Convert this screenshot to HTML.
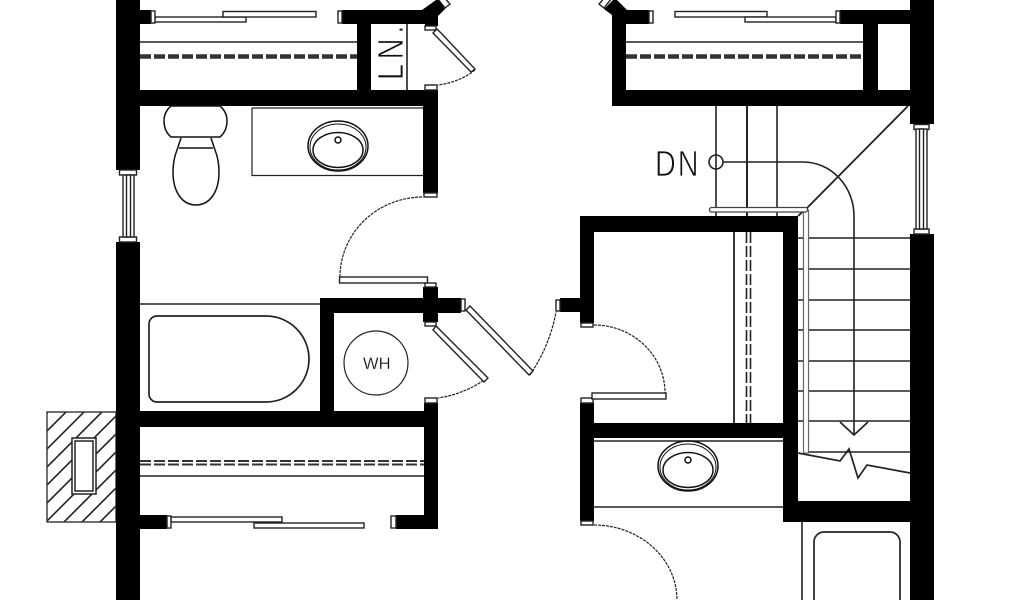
<!DOCTYPE html>
<html><head><meta charset="utf-8"><style>
html,body{margin:0;padding:0;background:#fff;width:1024px;height:600px;overflow:hidden}
svg{display:block}
text{font-family:"Liberation Sans",sans-serif;fill:#111;stroke:#fff}
</style></head><body>
<svg width="1024" height="600" viewBox="0 0 1024 600" xmlns="http://www.w3.org/2000/svg">
<defs><clipPath id="ch"><rect x="47" y="412" width="69" height="110"/></clipPath></defs>
<rect width="1024" height="600" fill="#fff"/>

<!-- chimney -->
<g clip-path="url(#ch)" stroke="#222" stroke-width="1.6">
<path d="M30 430L60 400M30 448L78 400M30 466L96 400M30 484L114 400M30 502L132 400M30 520L150 400M30 538L168 400M48 538L186 400M66 538L186 418M84 538L186 436M102 538L186 454"/>
</g>
<rect x="47" y="412" width="69" height="110" fill="none" stroke="#333" stroke-width="1.4"/>
<rect x="72" y="438" width="24" height="56" fill="#fff" stroke="#222" stroke-width="1.5"/>
<rect x="75" y="441" width="18" height="50" fill="#fff" stroke="#222" stroke-width="1.5"/>

<!-- thin lines -->
<g fill="none" stroke="#222" stroke-width="1.6">
<path d="M140 42H357M626 42H863M140 476H424M407 24V90M140 304H320"/>
<path d="M252 108H423M252 108V175.500H423" stroke-width="1.200"/>
<path d="M594 441H783M594 507H783" stroke-width="1.400"/>
<path d="M802 522V600"/>
<!-- stairs -->
<path d="M716 106V216M777 106V216" />
<path d="M747 106V216" stroke-width="2"/>
<path d="M798 238H910M798 269H910M798 300H910M798 330H910M798 361H910M798 391H910M798 421H910M808 452H910"/>
<path d="M723 162H803A51 54 0 0 1 854 216V435"/>
<circle cx="716" cy="162" r="7"/>
<path d="M808 207L908 106M798 216L808 207" stroke-width="1.800"/>
<path d="M840 422L854 435L868 422" stroke-width="1.700"/>
<path d="M798 453L840 461L849 449L858 478L867 465L910 473" stroke-width="1.700"/>
<path d="M734 232V423" stroke-width="1.800"/>
<path d="M746.500 232V423M750.500 232V423" stroke-dasharray="11 3" stroke-width="1.600"/>
<!-- tubs -->
<path d="M157 316H266A43 43 0 0 1 309 359A43 43 0 0 1 266 402H157A8 8 0 0 1 149 394V324A8 8 0 0 1 157 316Z" stroke-width="1.700"/>
<path d="M814 600V542A10 10 0 0 1 824 532H890A10 10 0 0 1 900 542V600" stroke-width="1.700"/>
<!-- WH circle -->
<circle cx="376" cy="363" r="32" stroke-width="1.200"/>
<!-- arcs -->
<path d="M340 277A83 80 0 0 1 423 197M475 70Q460 82 438 85M487 378Q465 394 438 398M530 375Q550 345 556 312M594 325A71 68 0 0 1 665 393M594 525A83 75 0 0 1 677 600" stroke-width="1.200" stroke-dasharray="3 1"/>
</g>
<!-- stair handrail -->
<rect x="803.500" y="210" width="5" height="243" fill="#fff" stroke="#666" stroke-width="1.200"/>
<rect x="709.500" y="207.500" width="98" height="4.500" rx="2" fill="#fff" stroke="#444" stroke-width="1.300"/>
<!-- dashed shelves -->
<g fill="none" stroke="#333" stroke-dasharray="11 3">
<path d="M140 56.500H357M626 56.500H863" stroke-width="4.500"/>
<path d="M140 461H424M140 464.500H424" stroke-width="2"/>
</g>

<!-- walls -->
<g fill="#000">
<rect x="116" y="0" width="24" height="170"/>
<rect x="116" y="242" width="24" height="358"/>
<rect x="910" y="0" width="24" height="124"/>
<rect x="910" y="234" width="24" height="366"/>
<rect x="140" y="10" width="11" height="14"/>
<rect x="342" y="10" width="80" height="14"/>
<rect x="357" y="24" width="14" height="66"/>
<rect x="116" y="90" width="322" height="16"/>
<rect x="423" y="90" width="15" height="103"/>
<polygon points="422,10 436,0 441,0 445,9 438,16 438,26 425,26 425,24 420,24 420,10"/>
<rect x="423" y="287" width="15" height="35"/>
<rect x="320" y="298" width="141" height="15"/>
<rect x="320" y="298" width="14" height="113"/>
<rect x="140" y="411" width="298" height="16"/>
<rect x="424" y="403" width="14" height="125"/>
<rect x="140" y="515" width="27" height="14"/>
<rect x="396" y="515" width="42" height="14"/>
<polygon points="604,9 613,0 617,0 627,10 649,10 649,24 626,24 626,90 863,90 863,24 840,24 840,10 910,10 910,24 878,24 878,90 910,90 910,106 612,106 612,15"/>
<rect x="580" y="216" width="218" height="16"/>
<rect x="580" y="216" width="14" height="107"/>
<rect x="560" y="298" width="20" height="14"/>
<rect x="580" y="403" width="14" height="118"/>
<rect x="594" y="423" width="204" height="15"/>
<rect x="783" y="216" width="15" height="306"/>
<rect x="783" y="501" width="130" height="21"/>
</g>

<!-- windows -->
<g fill="#fff" stroke="#222" stroke-width="1.400">
<rect x="119.500" y="170" width="17" height="5"/>
<rect x="119.500" y="237" width="17" height="5"/>
<rect x="123" y="175" width="11" height="62"/>
<rect x="126.500" y="175" width="4" height="62"/>
<rect x="914" y="124.500" width="15" height="5"/>
<rect x="914" y="229" width="15" height="5"/>
<rect x="916" y="129" width="11" height="100"/>
<rect x="919.500" y="129" width="4" height="100"/>

<!-- sliding panels -->
<rect x="155" y="17" width="91" height="5"/>
<rect x="223" y="11.500" width="93" height="5.500"/>
<rect x="151" y="11" width="4" height="12"/>
<rect x="338" y="11" width="4" height="12"/>
<rect x="675" y="11.500" width="92" height="5.500"/>
<rect x="745" y="17" width="91" height="5"/>
<rect x="649" y="11" width="4" height="12"/>
<rect x="836" y="11" width="4" height="12"/>
<rect x="171" y="517" width="111" height="5"/>
<rect x="254" y="523" width="110" height="5"/>
<rect x="167" y="516" width="4" height="12"/>
<rect x="391" y="516" width="5" height="12"/>

<!-- door caps & panels -->
<rect x="425" y="26" width="11" height="4"/>
<rect x="425" y="85" width="12" height="5"/>
<rect x="424" y="193" width="13" height="4"/>
<rect x="339.500" y="277" width="88" height="6"/>
<rect x="425" y="283" width="11" height="4"/>
<rect x="425" y="322" width="11" height="4"/>
<rect x="425" y="398" width="12" height="5"/>
<rect x="461" y="299" width="4" height="12"/>
<rect x="581" y="323" width="12" height="4"/>
<rect x="581" y="398" width="12" height="5"/>
<rect x="581" y="521" width="12" height="4"/>
<rect x="592" y="393" width="74" height="6"/>
<rect x="556" y="300" width="4" height="11"/>
<polygon points="437,29 441,33 475,69 471,72 433,33"/>
<polygon points="436,326 433,330 484,382 488,378"/>
<polygon points="470,306 466,310 529,375 533,371"/>
<polygon points="438,-1 442,-5 450,4 445,8"/>
<polygon points="611,-1 607,-5 599,4 604,8"/>
</g>

<!-- toilet -->
<g fill="#fff" stroke="#111" stroke-width="1.500">
<path d="M171 106H220Q227 112 227 121Q227 131 220 137H171Q164 131 164 121Q164 112 171 106Z"/>
<path d="M181 138L177 150Q173 160 173 172C173 193 183 205 196 205C209 205 219 193 219 172Q219 160 215 150L211 138"/>
<path d="M179 148H213"/>
</g>
<!-- sinks -->
<g fill="none" stroke="#111" stroke-width="1.500">
<ellipse cx="338" cy="146" rx="30" ry="25"/><ellipse cx="338" cy="147" rx="28" ry="23" stroke-width="1"/>
<ellipse cx="338" cy="150" rx="25" ry="17.500"/>
<circle cx="338" cy="140" r="3"/>
<ellipse cx="688" cy="466" rx="30" ry="25"/><ellipse cx="688" cy="467" rx="28" ry="23" stroke-width="1"/>
<ellipse cx="688" cy="470" rx="25" ry="17.500"/>
<circle cx="688" cy="460" r="3"/>
</g>

<!-- labels -->
<text x="0" y="0" font-size="36" stroke-width="0.8" letter-spacing="6" transform="translate(403,80) rotate(-90) scale(0.8,1)">LN.</text>
<text x="0" y="0" font-size="36" stroke-width="0.8" letter-spacing="2.500" transform="translate(655,176) scale(0.8,1)">DN</text>
<text x="363" y="369" font-size="16.500" stroke-width="0.2">WH</text>
</svg>
</body></html>
